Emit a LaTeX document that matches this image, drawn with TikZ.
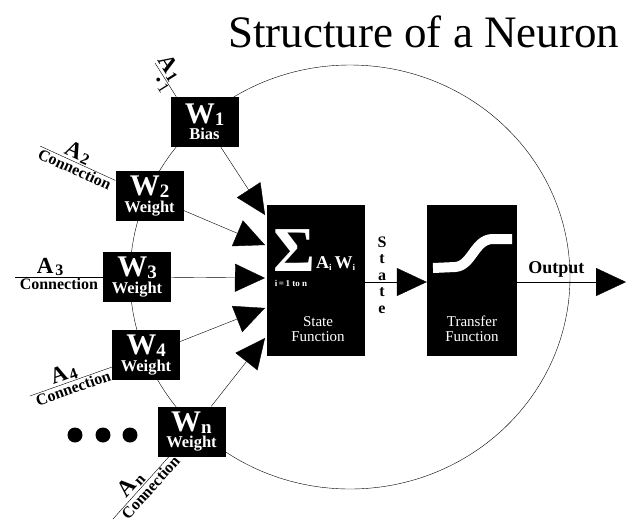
\documentclass[tikz,border=0pt]{standalone}
\usepackage{fontspec}
\setmainfont{Liberation Serif}
\usetikzlibrary{arrows.meta}

\newcommand{\wlab}[2]{{\fontsize{30}{30}\selectfont W\raisebox{-2pt}{\fontsize{19}{19}\selectfont #1}}\\[2pt]{\fontsize{16.5}{16.5}\selectfont #2}}
\newcommand{\alab}[1]{{\fontsize{23}{23}\selectfont A}\,\raisebox{-2pt}{\fontsize{16}{16}\selectfont #1}}

\tikzset{
  wbox/.style={fill=black, text=white, font=\bfseries, minimum width=68pt, minimum height=50pt, inner sep=0pt, align=center},
  fbox/.style={fill=black, minimum height=151pt, inner sep=0pt},
  conn/.style={font=\bfseries\fontsize{16}{16}\selectfont, inner sep=1pt},
  alabel/.style={font=\bfseries, inner sep=1pt},
  bigtip/.style={-{Triangle[length=30pt,width=28pt]}}
}

\begin{document}
\begin{tikzpicture}[x=1pt,y=-1pt]
    \useasboundingbox (0,0) rectangle (632,523);
    % title
    \node[anchor=base west, inner sep=0] (title) at (228,47) {\fontsize{45}{45}\selectfont Structure of a Neuron};
    % the cell
    \draw[thin] (350,277) ellipse (220 and 212);
    % weight boxes
    \node[wbox] (w1) at (204.5,122) {\wlab{1}{Bias}};
    \node[wbox] (w2) at (149.5,196) {\wlab{2}{Weight}};
    \node[wbox] (w3) at (137,277) {\wlab{3}{Weight}};
    \node[wbox] (w4) at (146,355) {\wlab{4}{Weight}};
    \node[wbox] (wn) at (191.5,431.5) {\wlab{n}{Weight}};
    % state and transfer function
    \node[fbox, minimum width=98pt] (sf) at (316,280.5) {};
    \node[fbox, minimum width=90pt] (tf) at (472,280.5) {};
    \node[text=white, inner sep=0, anchor=base, font=\bfseries\fontsize{64}{64}\selectfont] (sum) at (294,271) {Σ};
    \node[text=white, inner sep=0, anchor=base west, font=\bfseries\fontsize{18}{18}\selectfont] (aw) at (316,268) {A\raisebox{-2pt}{\fontsize{9}{9}\selectfont i}\,W\raisebox{-2pt}{\fontsize{9}{9}\selectfont i}};
    \node[text=white, inner sep=0, anchor=base, font=\bfseries\fontsize{9}{9}\selectfont] (range) at (291,286) {i\,=\,1 to n};
    \node[text=white, inner sep=0, align=center, font=\fontsize{15}{15}\selectfont] (sflab) at (318,329) {State\\Function};
    \node[text=white, inner sep=0, align=center, font=\fontsize{15}{15}\selectfont] (tflab) at (472,329) {Transfer\\Function};
    \draw[white, line width=10pt] (433,268) -- (455,267) .. controls (472,266) and (474,240) .. (492,239) -- (512,239);
    % inputs into the state function
    \coordinate (t1) at (265,215);
    \coordinate (t2) at (265,245);
    \coordinate (t3) at (265,278);
    \coordinate (t4) at (265,308);
    \coordinate (t5) at (265,338);
    \draw[bigtip] (w1) -- (t1);
    \draw[bigtip] (w2) -- (t2);
    \draw[bigtip] (w3) -- (t3);
    \draw[bigtip] (w4) -- (t4);
    \draw[bigtip] (wn) -- (t5);
    \draw[bigtip] (sf.east |- 0,282) -- (tf.west |- 0,282);
    \node[inner sep=0, align=center, font=\bfseries\fontsize{16}{16.5}\selectfont] (statelab) at (382,275) {S\\t\\a\\t\\e};
    \coordinate (out) at (626,282);
    \draw[bigtip] (tf.east |- out) -- node[pos=0.36, above=1pt, font=\bfseries\fontsize{18}{18}\selectfont] {Output} (out);
    % connections
    \coordinate (a1) at (155,63);
    \coordinate (a2) at (40,146);
    \coordinate (a3) at (15,277);
    \coordinate (a4) at (30,396);
    \coordinate (an) at (113,519);
    \draw (a1) -- node[pos=0.3, above, sloped, alabel] {\alab{1}} node[pos=0.55, below, sloped, alabel, font=\fontsize{16}{16}\selectfont] {\textbullet\,1} ([xshift=6pt]w1.north west);
    \draw (a2) -- node[pos=0.45, above, sloped, alabel] {\alab{2}} node[midway, below, sloped, conn] {Connection} (w2);
    \draw (a3) -- node[pos=0.4, above, alabel] {\alab{3}} node[midway, below, conn] {Connection} (w3);
    \draw (a4) -- node[pos=0.45, above, sloped, alabel] {\alab{4}} node[midway, below, sloped, conn] {Connection} (w4);
    \draw (an) -- node[pos=0.45, above, sloped, alabel] {\alab{n}} node[pos=0.58, below, sloped, conn] {Connection} (wn);
    % more inputs
    \foreach \x in {75,103,130}
        \fill (\x,435) circle (7.5);
\end{tikzpicture}
\end{document}
